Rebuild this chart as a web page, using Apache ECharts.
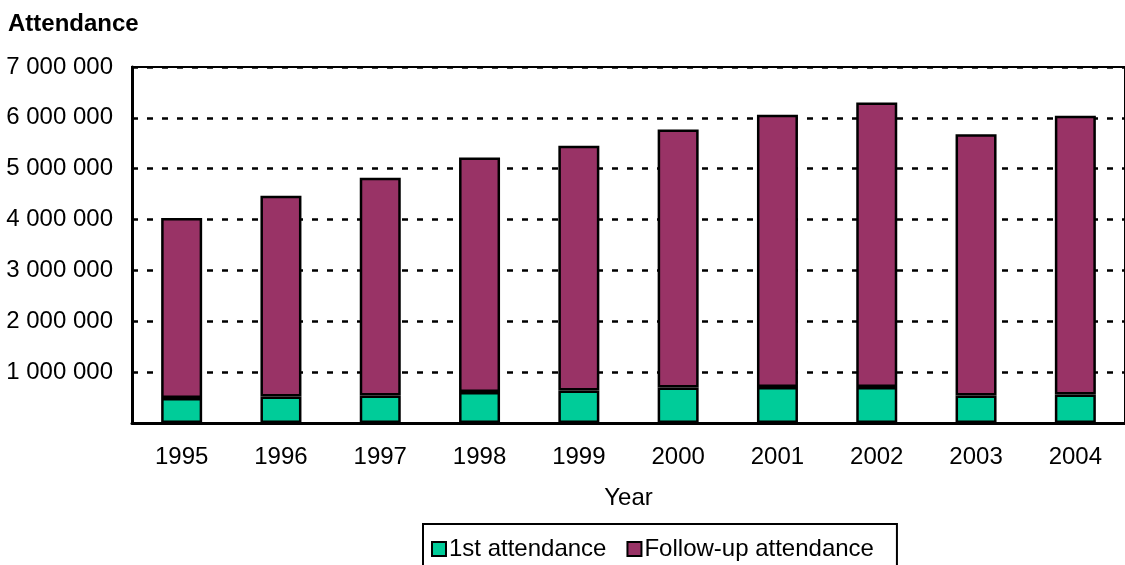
<!DOCTYPE html>
<html>
<head>
<meta charset="utf-8">
<script src="https://cdn.jsdelivr.net/npm/echarts@6/dist/echarts.min.js"></script>
<style>html,body{margin:0;padding:0;background:#fff}#c{width:1125px;height:565px}</style>
</head>
<body>
<div id="c"></div>
<script>
const years = ['1995','1996','1997','1998','1999','2000','2001','2002','2003','2004'];
const firstAttendance = [490000, 520000, 540000, 610000, 640000, 700000, 710000, 710000, 540000, 560000];
const followUpAttendance = [3540000, 3950000, 4280000, 4610000, 4810000, 5070000, 5350000, 5590000, 5140000, 5480000];
const yTicks = [0, 1000000, 2000000, 3000000, 4000000, 5000000, 6000000, 7000000];

const FONT = '"Liberation Sans", Arial, sans-serif';
function fmt(v) {
  if (v === 0) return '';
  return String(v).replace(/\B(?=(\d{3})+(?!\d))/g, ' ');
}
const chart = echarts.init(document.getElementById('c'));
chart.setOption({
  animation: false,
  backgroundColor: '#fff',
  textStyle: { fontFamily: FONT },
  title: {
    text: 'Attendance', left: 3, top: 7,
    textStyle: { fontFamily: FONT, fontWeight: 'bold', fontSize: 24, color: '#000' }
  },
  grid: {
    left: 132, right: -5, top: 67, bottom: 142,
    show: true, borderColor: '#000', borderWidth: 2, backgroundColor: 'transparent'
  },
  legend: {
    left: 423, top: 524,
    orient: 'horizontal',
    icon: 'rect', itemWidth: 14, itemHeight: 14, itemGap: 20,
    padding: [13, 23, 13, 8],
    borderColor: '#000', borderWidth: 2,
    textStyle: { fontFamily: FONT, fontSize: 24, color: '#000', padding: [3, 0, 0, -2] },
    data: ['1st attendance', 'Follow-up attendance']
  },
  xAxis: {
    type: 'category', data: years,
    name: 'Year', nameLocation: 'middle', nameGap: 63,
    nameTextStyle: { fontFamily: FONT, fontSize: 24, color: '#000' },
    axisLine: { lineStyle: { color: '#000', width: 3 } },
    axisTick: { inside: true, length: 7, lineStyle: { color: '#000', width: 2 } },
    axisLabel: { margin: 22, fontFamily: FONT, fontSize: 24, color: '#000' }
  },
  yAxis: {
    type: 'value', min: yTicks[0], max: yTicks[yTicks.length - 1], interval: yTicks[1] - yTicks[0],
    axisLine: { show: true, lineStyle: { color: '#000', width: 3 } },
    axisTick: { show: false },
    axisLabel: { margin: 19, fontFamily: FONT, fontSize: 24, color: '#000', formatter: fmt },
    splitLine: { lineStyle: { color: '#000', width: 2.5, type: [6, 9] } }
  },
  series: [
    {
      name: '1st attendance', type: 'bar', stack: 'a', data: firstAttendance, barWidth: 41,
      itemStyle: { color: '#00CC99', borderColor: '#000', borderWidth: 2.5 }
    },
    {
      name: 'Follow-up attendance', type: 'bar', stack: 'a', data: followUpAttendance, barWidth: 41,
      itemStyle: { color: '#993366', borderColor: '#000', borderWidth: 2.5 }
    }
  ]
});
</script>
</body>
</html>
